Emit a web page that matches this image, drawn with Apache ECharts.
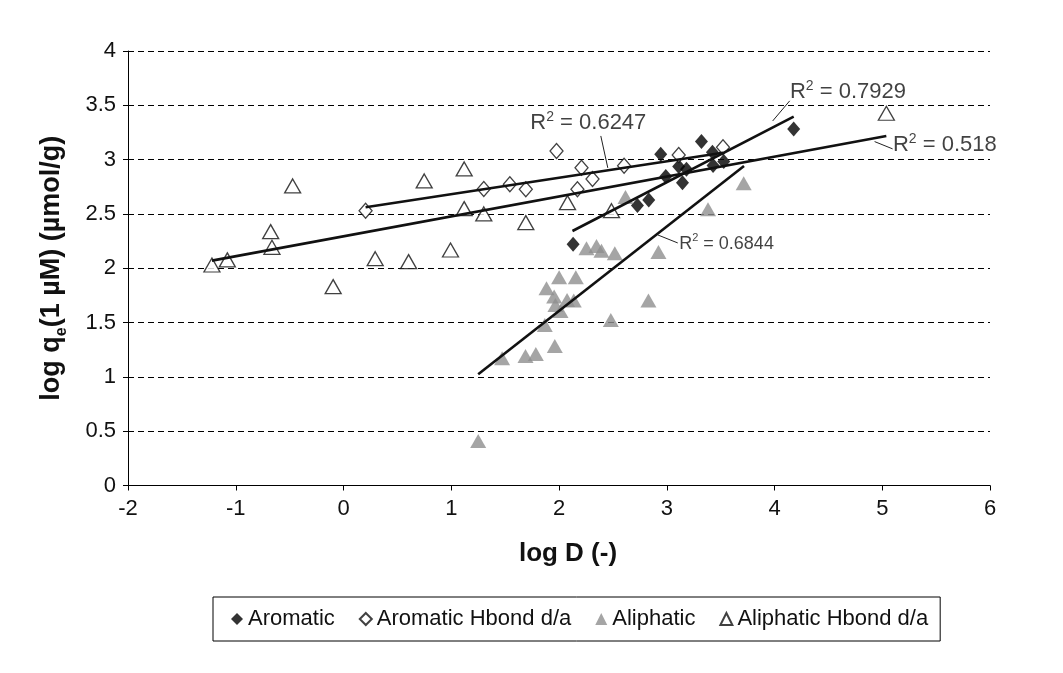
<!DOCTYPE html>
<html><head><meta charset="utf-8">
<script src="https://cdn.jsdelivr.net/npm/echarts@6/dist/echarts.min.js"></script>
<style>html,body{margin:0;padding:0;background:#fff}#c{width:1063px;height:673px}</style>
</head><body><div id="c"></div>
<script>
// ---- data (log D, log qe) ----
const seriesNames = ['Aromatic', 'Aromatic Hbond d/a', 'Aliphatic', 'Aliphatic Hbond d/a'];

const aromatic = [
  [2.131,2.221],[2.728,2.577],[2.833,2.629],[2.944,3.049],[2.991,2.844],[3.111,2.936],
  [3.146,2.788],[3.183,2.911],[3.322,3.166],[3.424,3.068],[3.430,2.945],[3.529,2.982],[4.178,3.283]
];
const aromaticHbond = [
  [0.205,2.530],[1.302,2.730],[1.544,2.773],[1.692,2.727],[1.977,3.080],[2.171,2.727],
  [2.209,2.926],[2.311,2.822],[2.604,2.944],[3.111,3.043],[3.522,3.114]
];
const aliphatic = [
  [1.250,0.410],[1.472,1.171],[1.689,1.192],[1.785,1.211],[1.868,1.478],[1.884,1.816],
  [1.955,1.739],[1.961,1.285],[1.967,1.662],[2.001,1.917],[2.014,1.607],[2.075,1.708],
  [2.137,1.702],[2.156,1.917],[2.255,2.184],[2.348,2.205],[2.394,2.162],[2.481,1.524],
  [2.518,2.138],[2.617,2.655],[2.830,1.702],[2.923,2.150],[3.383,2.543],[3.714,2.783]
];
const aliphaticHbond = [
  [-1.221,2.030],[-1.078,2.077],[-0.676,2.337],[-0.664,2.193],[-0.472,2.758],[-0.096,1.831],
  [0.294,2.088],[0.604,2.061],[0.749,2.804],[0.993,2.168],[1.120,2.914],[1.120,2.549],
  [1.302,2.500],[1.692,2.420],[2.079,2.604],[2.487,2.530],[5.038,3.427]
];

// linear trend lines (end points)
const trendAromatic = [[2.125,2.343],[4.178,3.396]];
const trendAromaticHbond = [[0.205,2.562],[3.522,3.063]];
const trendAliphatic = [[1.250,1.024],[3.717,2.942]];
const trendAliphaticHbond = [[-1.221,2.070],[5.038,3.218]];

// R² annotations
const r2Values = ['0.6247', '0.7929', '0.518', '0.6844'];
const r2Anchors = [[1.729,3.338],[4.139,3.623],[5.095,3.135],[3.111,2.224]];
const r2Leaders = [
  [[2.388,3.218],[2.453,2.924]],
  [[3.983,3.356],[4.141,3.541]],
  [[4.929,3.166],[5.096,3.099]],
  [[2.916,2.307],[3.102,2.233]]
];

const xMin = -2, xMax = 6, xStep = 1;
const yMin = 0, yMax = 4, yStep = 0.5;

// ---- chart ----
const FONT = '"Liberation Sans", Arial, sans-serif';
const chart = echarts.init(document.getElementById('c'), null, {renderer: 'canvas'});

const markerSeries = [
  {name: seriesNames[0], data: aromatic, symbol: 'diamond', symbolSize: [13, 15],
   itemStyle: {color: '#000', borderColor: '#000', borderWidth: 0}},
  {name: seriesNames[1], data: aromaticHbond, symbol: 'diamond', symbolSize: [13, 15],
   itemStyle: {color: '#fff', borderColor: '#111', borderWidth: 1.3}},
  {name: seriesNames[2], data: aliphatic, symbol: 'triangle', symbolSize: [16, 14],
   itemStyle: {color: '#8e8e8e', borderColor: '#8e8e8e', borderWidth: 0}},
  {name: seriesNames[3], data: aliphaticHbond, symbol: 'triangle', symbolSize: [16, 14],
   itemStyle: {color: '#fff', borderColor: '#111', borderWidth: 1.3}}
].map(s => Object.assign({type: 'scatter', z: 3, emphasis: {disabled: true}}, s));

const trendSeries = [trendAromatic, trendAromaticHbond, trendAliphatic, trendAliphaticHbond].map(d => ({
  type: 'line', data: d, symbol: 'none', z: 4, silent: true,
  lineStyle: {color: '#111', width: 2.6}
}));

const leaderSeries = r2Leaders.map(d => ({
  type: 'line', data: d, symbol: 'none', z: 4, silent: true,
  lineStyle: {color: '#222', width: 1}
}));

const r2Sizes = [22, 22, 22, 18];
const r2Series = r2Values.map((v, i) => ({
  type: 'scatter', silent: true, z: 5,
  data: [r2Anchors[i]], symbolSize: 1, itemStyle: {color: 'rgba(0,0,0,0)'},
  label: {
    show: true, position: 'right', distance: 0,
    formatter: '{r|R}{s|2}{r| = ' + v + '}',
    rich: {
      r: {fontSize: r2Sizes[i], fontFamily: FONT, color: '#111', lineHeight: r2Sizes[i] + 4},
      s: {fontSize: Math.round(r2Sizes[i] * 0.62), fontFamily: FONT, color: '#111',
          verticalAlign: 'top', lineHeight: Math.round(r2Sizes[i] * 0.62)}
    }
  }
}));

chart.setOption({
  animation: false,
  backgroundColor: '#fff',
  grid: {left: 128, right: 73, top: 51, bottom: 187.5, containLabel: false},
  legend: {
    data: seriesNames,
    left: 213, top: 597,
    orient: 'horizontal',
    borderColor: '#000', borderWidth: 1,
    padding: [11, 12, 11, 18],
    itemGap: 24, itemWidth: 12, itemHeight: 12,
    selectedMode: false,
    textStyle: {fontSize: 22, fontFamily: FONT, color: '#111', padding: [0, 0, 0, 0]}
  },
  xAxis: {
    type: 'value', min: xMin, max: xMax, interval: xStep,
    name: 'log D (-)', nameLocation: 'middle', nameGap: 55,
    nameTextStyle: {fontSize: 26, fontWeight: 'bold', fontFamily: FONT, color: '#111', padding: [0, 0, 0, 18]},
    axisLine: {show: true, onZero: false, lineStyle: {color: '#000', width: 1}},
    axisTick: {show: true, length: 5, inside: false, lineStyle: {color: '#000'}},
    axisLabel: {fontSize: 22, fontFamily: FONT, color: '#111', margin: 12},
    splitLine: {show: false}
  },
  yAxis: {
    type: 'value', min: yMin, max: yMax, interval: yStep,
    name: 'log q{sub|e}(1 µM) (µmol/g)', nameLocation: 'middle', nameGap: 58, nameRotate: 90,
    nameTextStyle: {
      fontSize: 27, fontWeight: 'bold', fontFamily: FONT, color: '#111', lineHeight: 36,
      rich: {sub: {fontSize: 16, fontWeight: 'bold', fontFamily: FONT, color: '#111',
                   verticalAlign: 'bottom', lineHeight: 16}}
    },
    axisLine: {show: true, onZero: false, lineStyle: {color: '#000', width: 1}},
    axisTick: {show: true, length: 5, inside: false, lineStyle: {color: '#000'}},
    axisLabel: {fontSize: 22, fontFamily: FONT, color: '#111', margin: 12},
    splitLine: {show: true, lineStyle: {color: '#000', width: 1, type: [6, 4]}}
  },
  series: [...markerSeries, ...trendSeries, ...leaderSeries, ...r2Series]
});
</script>
</body></html>
